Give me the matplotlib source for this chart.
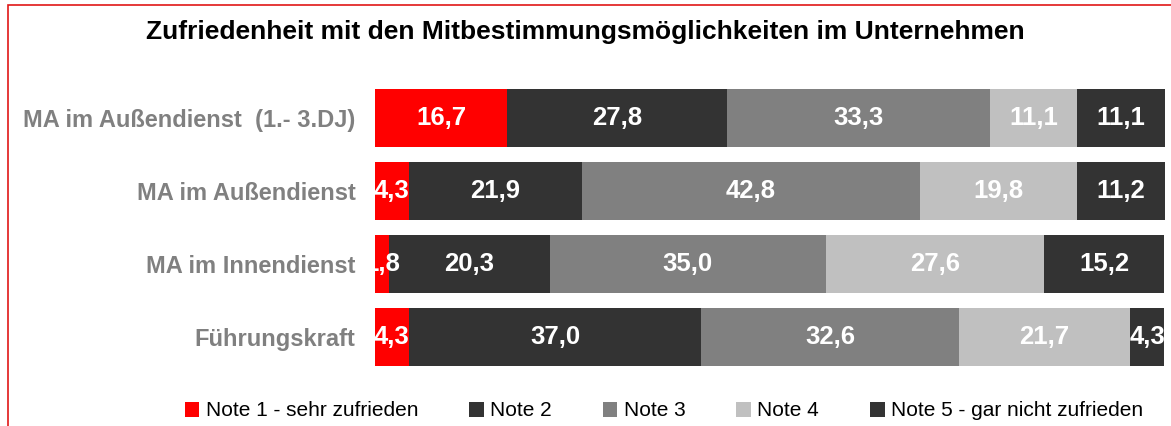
import matplotlib.pyplot as plt
from matplotlib.patches import Rectangle

plt.rcParams['font.family'] = ['Liberation Sans', 'DejaVu Sans']

categories = ['MA im Außendienst  (1.- 3.DJ)', 'MA im Außendienst',
              'MA im Innendienst', 'Führungskraft']
series = ['Note 1 - sehr zufrieden', 'Note 2', 'Note 3', 'Note 4',
          'Note 5 - gar nicht zufrieden']
note1 = [16.7, 4.3, 1.8, 4.3]
note2 = [27.8, 21.9, 20.3, 37.0]
note3 = [33.3, 42.8, 35.0, 32.6]
note4 = [11.1, 19.8, 27.6, 21.7]
note5 = [11.1, 11.2, 15.2, 4.3]

colors = ['#ff0000', '#333333', '#808080', '#c0c0c0', '#333333']

fig = plt.figure(figsize=(11.71, 4.26), dpi=100)
ax = fig.add_axes([375 / 1171, 0.1232, 790 / 1171, 0.6854])

y = list(range(len(categories)))
left = [0.0] * len(categories)
for vals, name, col in zip([note1, note2, note3, note4, note5], series, colors):
    bars = ax.barh(y, vals, height=0.79, left=left, color=col, label=name)
    for b, v in zip(bars, vals):
        ax.text(b.get_x() + b.get_width() / 2, b.get_y() + b.get_height() / 2,
                f'{v:.1f}'.replace('.', ','), ha='center', va='center',
                color='white', fontsize=18.5, fontweight='bold')
    left = [l + v for l, v in zip(left, vals)]

ax.set_xlim(0, 100)
ax.set_ylim(len(categories) - 0.5, -0.5)
ax.set_yticks(y)
ax.set_yticklabels(categories, fontsize=17, fontweight='bold', color='#808080')
ax.tick_params(axis='y', length=0, pad=14)
ax.set_xticks([])
for s in ax.spines.values():
    s.set_visible(False)

fig.text(0.5, 1 - 32 / 426, 'Zufriedenheit mit den Mitbestimmungsmöglichkeiten im Unternehmen',
         ha='center', va='center', fontsize=19, fontweight='bold')

fig.legend(loc='center', bbox_to_anchor=(0.567, 1 - 411 / 426), ncol=5,
           frameon=False, fontsize=15, handlelength=0.7, handleheight=0.7,
           handletextpad=0.3, columnspacing=2.45)

fig.patches.append(Rectangle((8 / 1171, -0.1), 1.1, 1.1 - 5 / 426,
                             transform=fig.transFigure, fill=False,
                             edgecolor='#e01818', lw=1.2))

plt.savefig('out.png', dpi=100)
